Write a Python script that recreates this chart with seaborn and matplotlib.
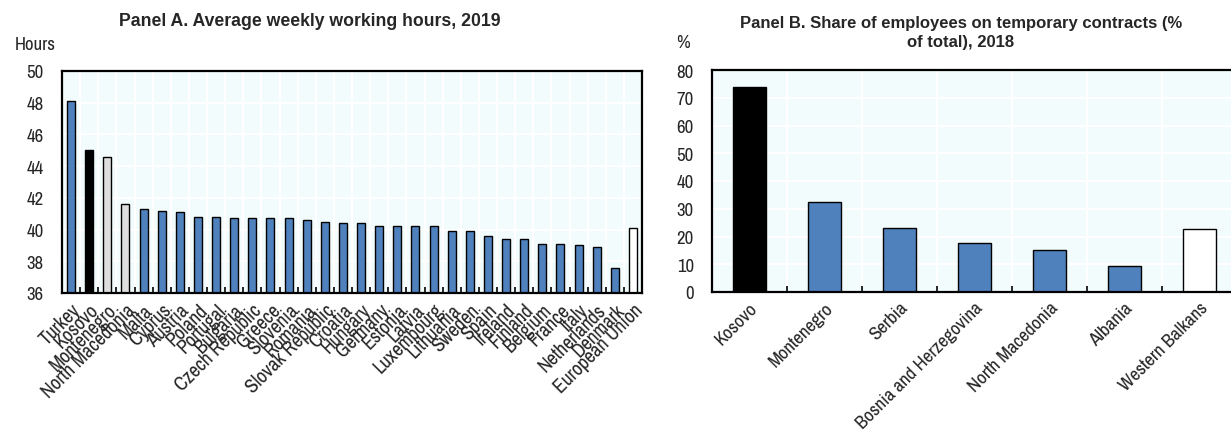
import matplotlib
matplotlib.use("Agg")
import matplotlib.pyplot as plt
import numpy as np
import seaborn as sns

# Panel A - average weekly working hours, 2019
countries_a = ["Turkey", "Kosovo", "Montenegro", "North Macedonia", "Malta", "Cyprus",
               "Austria", "Poland", "Portugal", "Bulgaria", "Czech Republic", "Greece",
               "Slovenia", "Romania", "Slovak Republic", "Croatia", "Hungary", "Germany",
               "Estonia", "Latvia", "Luxembourg", "Lithuania", "Sweden", "Spain",
               "Ireland", "Finland", "Belgium", "France", "Italy", "Netherlands",
               "Denmark", "European Union"]
hours_a = [48.1, 45.0, 44.6, 41.6, 41.3, 41.2, 41.1, 40.8, 40.8, 40.7, 40.7, 40.7,
           40.7, 40.6, 40.5, 40.4, 40.4, 40.2, 40.2, 40.2, 40.2, 39.9, 39.9, 39.6,
           39.4, 39.4, 39.1, 39.1, 39.0, 38.9, 37.6, 40.1]

# Panel B - share of employees on temporary contracts, 2018
countries_b = ["Kosovo", "Montenegro", "Serbia", "Bosnia and Herzegovina",
               "North Macedonia", "Albania", "Western Balkans"]
share_b = [74.0, 32.6, 23.0, 17.5, 15.0, 9.5, 22.7]

BLUE, BLACK, GREY, WHITE = "#4F81BD", "#000000", "#DEDEDE", "#FFFFFF"
BG = "#F2FCFD"

sns.set_style("white")
NARROW = ["Liberation Sans Narrow", "Archivo Narrow", "Liberation Sans", "DejaVu Sans"]
plt.rcParams["font.family"] = NARROW
plt.rcParams["font.size"] = 12


def colour_for(name, panel):
    if name == "Kosovo":
        return BLACK
    if name in ("European Union", "Western Balkans"):
        return WHITE
    if panel == "A" and name in ("Montenegro", "North Macedonia"):
        return GREY
    return BLUE


def style_axis(ax, n, ylim, yticks, ytick_marks):
    ax.set_facecolor(BG)
    ax.set_xlim(-0.5, n - 0.5)
    ax.set_ylim(*ylim)
    ax.set_yticks(yticks)
    ax.set_xticks(np.arange(n - 1) + 0.5, minor=True)
    ax.grid(True, which="major", axis="y", color="white", linewidth=1.5)
    ax.grid(True, which="minor", axis="x", color="white", linewidth=1.5)
    ax.grid(False, which="major", axis="x")
    ax.set_axisbelow(True)
    for s in ax.spines.values():
        s.set_color("black")
        s.set_linewidth(1.6)
    ax.tick_params(axis="x", which="minor", direction="in", length=4, width=1.2,
                   color="black", bottom=True)
    ax.tick_params(axis="y", which="major", direction="in",
                   length=4 if ytick_marks else 0, width=1.2, labelsize=13.5, pad=13)
    ax.set_xlabel("")
    ax.set_ylabel("")


fig = plt.figure(figsize=(12.31, 4.31), dpi=100)

ax_a = fig.add_axes([62 / 1231, 1 - 294 / 431, 580 / 1231, 222 / 431])
cols_a = [colour_for(c, "A") for c in countries_a]
sns.barplot(x=countries_a, y=hours_a, hue=countries_a, palette=cols_a, legend=False,
            width=0.44, edgecolor="black", linewidth=1.0, saturation=1, ax=ax_a)
style_axis(ax_a, len(countries_a), (36, 50), range(36, 51, 2), True)
ax_a.set_xticks(range(len(countries_a)))
ax_a.set_xticklabels(countries_a, rotation=45, ha="right", rotation_mode="anchor",
                     fontsize=14.2)
ax_a.tick_params(axis="x", which="major", length=0, pad=5)

ax_b = fig.add_axes([712 / 1231, 1 - 293 / 431, 525 / 1231, 222 / 431])
cols_b = [colour_for(c, "B") for c in countries_b]
sns.barplot(x=countries_b, y=share_b, hue=countries_b, palette=cols_b, legend=False,
            width=0.43, edgecolor="black", linewidth=1.0, saturation=1, ax=ax_b)
style_axis(ax_b, len(countries_b), (0, 80), range(0, 81, 10), False)
ax_b.set_xticks(range(len(countries_b)))
ax_b.set_xticklabels(countries_b, rotation=45, ha="right", rotation_mode="anchor",
                     fontsize=13.6)
ax_b.tick_params(axis="x", which="major", length=0, pad=5)

TITLE_FONT = ["Liberation Sans", "DejaVu Sans"]
fig.text(310 / 1231, 1 - 22 / 431, "Panel A. Average weekly working hours, 2019",
         ha="center", va="center", fontsize=12.7, fontweight="bold", family=TITLE_FONT)
fig.text(961 / 1231, 1 - 33 / 431,
         "Panel B. Share of employees on temporary contracts (%\nof total), 2018",
         ha="center", va="center", fontsize=12.0, fontweight="bold", linespacing=1.3,
         family=TITLE_FONT)
fig.text(15 / 1231, 1 - 45 / 431, "Hours", ha="left", va="center", fontsize=13.5)
fig.text(676 / 1231, 1 - 43 / 431, "%", ha="left", va="center", fontsize=13.5)

fig.savefig("out.png", dpi=100)
